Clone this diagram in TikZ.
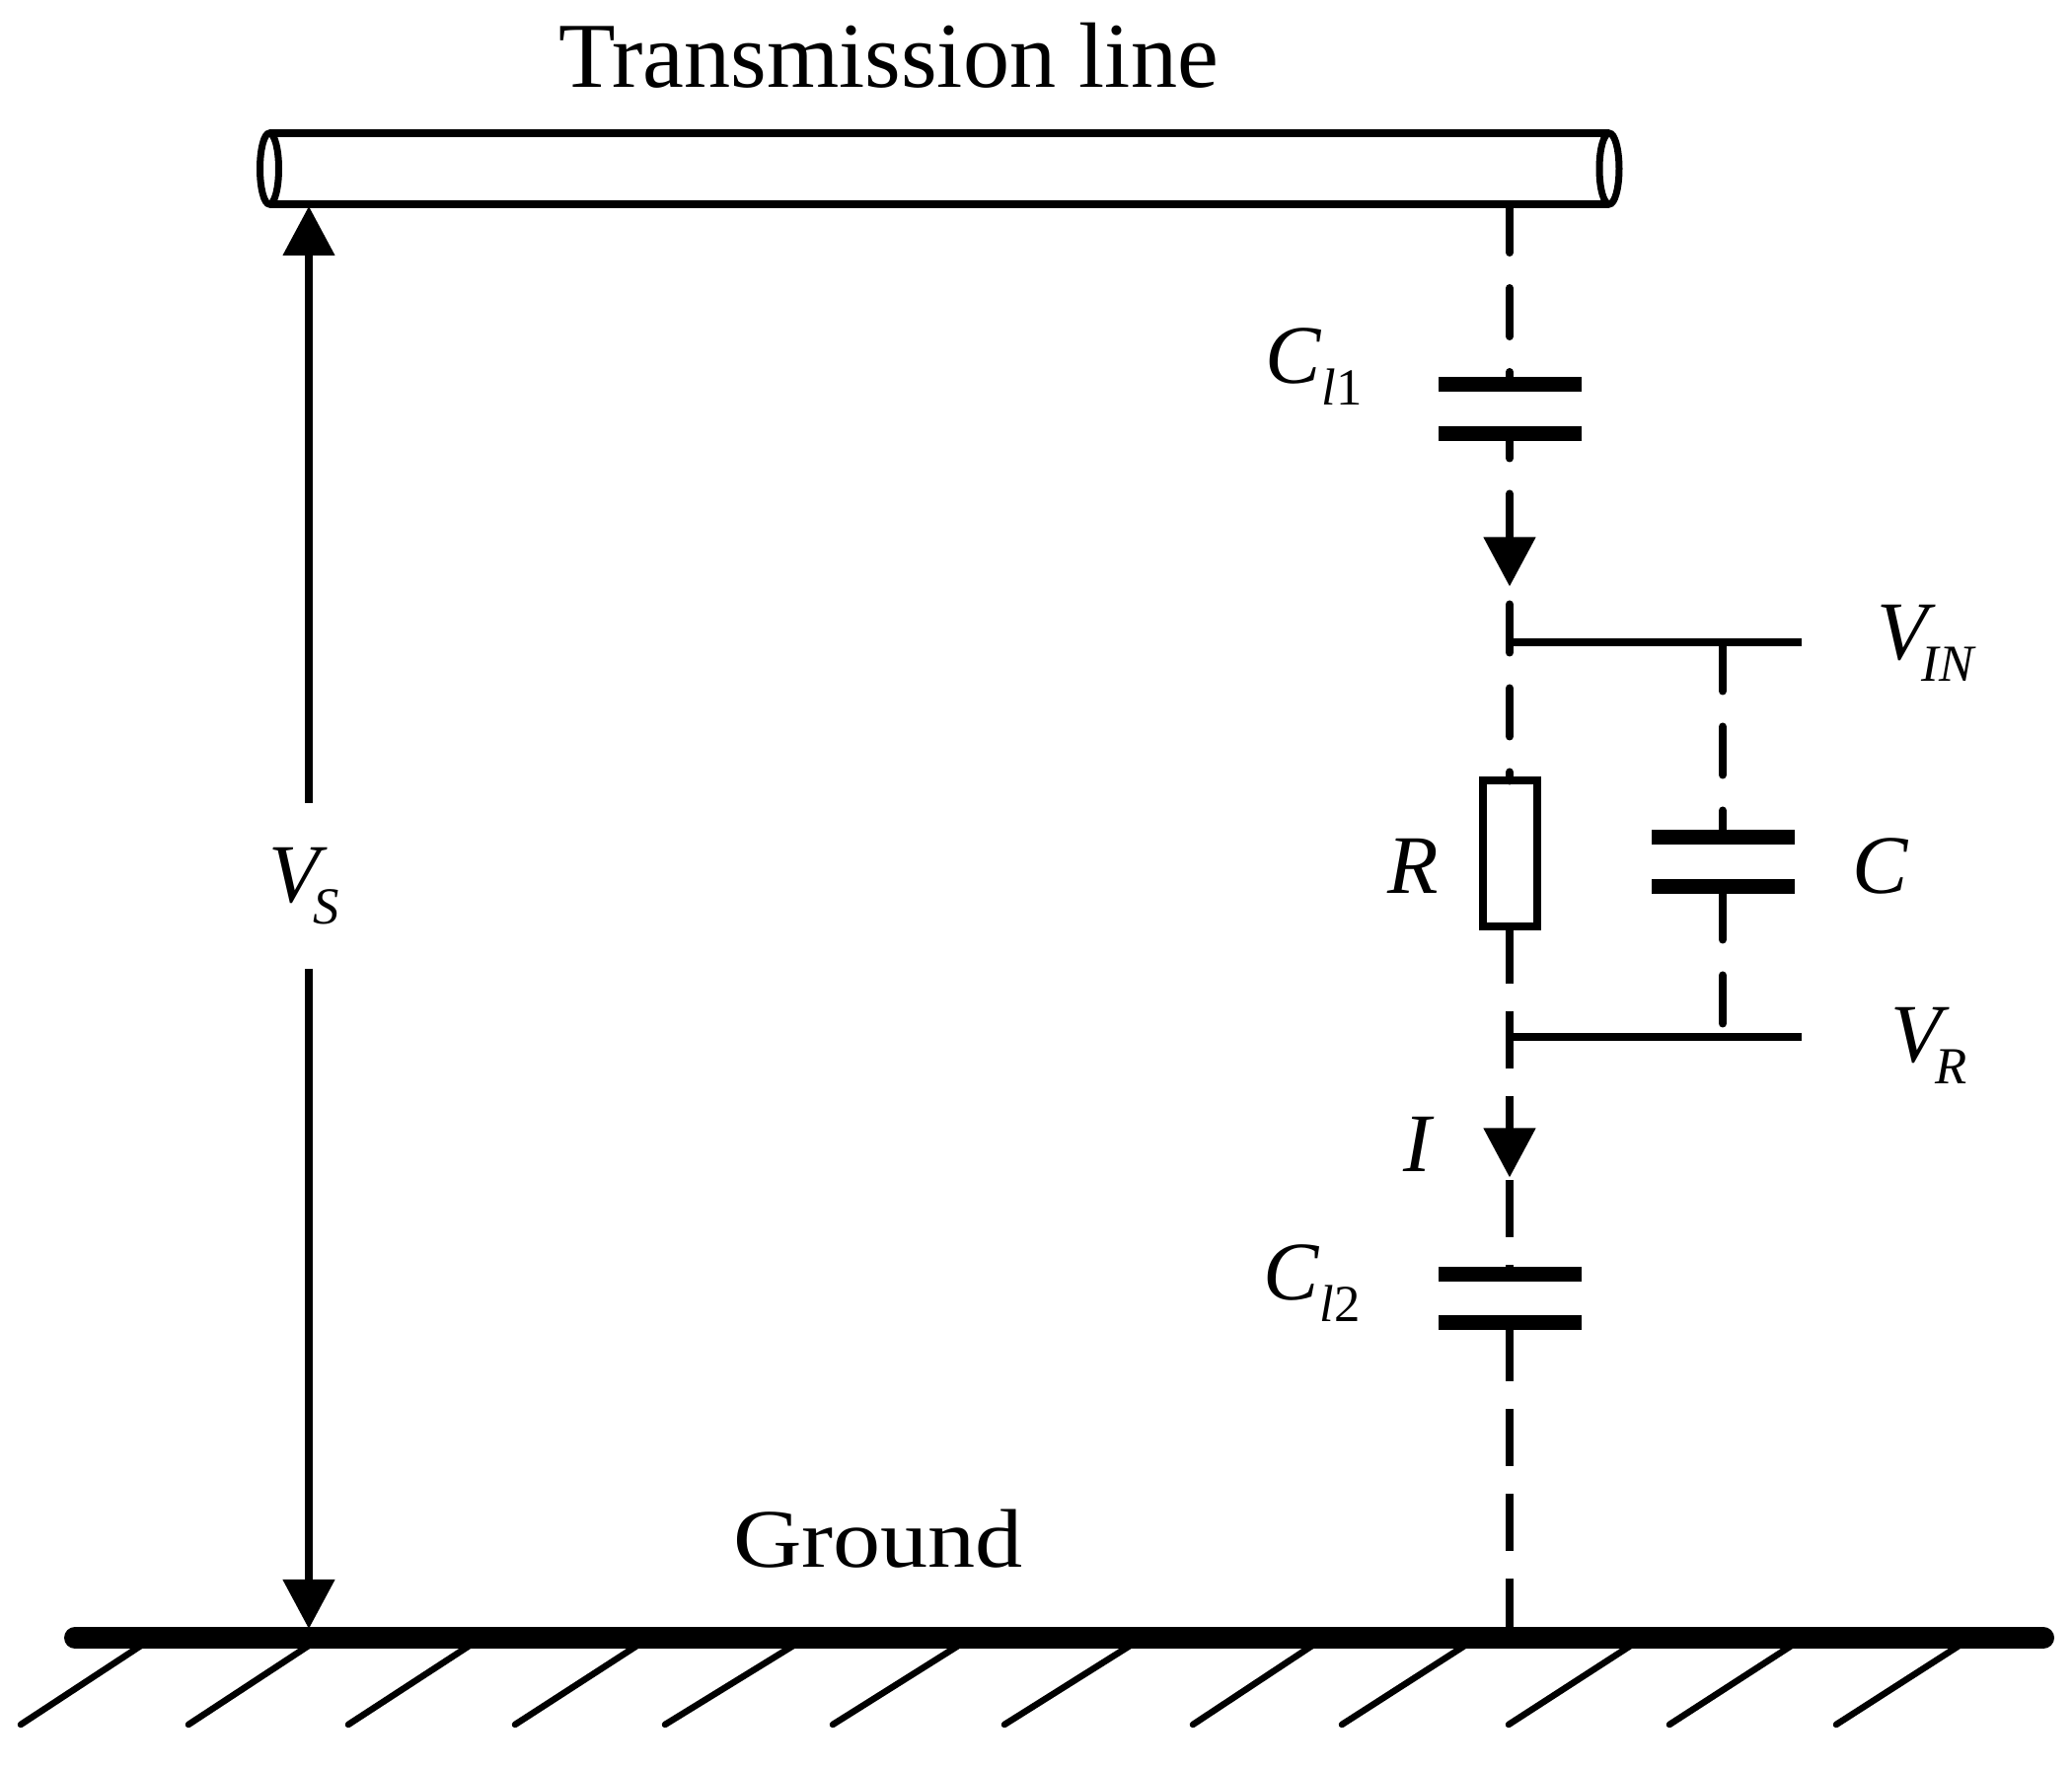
\documentclass[tikz,border=0pt]{standalone}
\usepackage{fontspec}
\setmainfont{Liberation Serif}
\usepackage{tikz}
\usetikzlibrary{positioning}
\usetikzlibrary{arrows.meta}
\newcommand{\sublab}[3]{\textit{#1}\kern#3\raisebox{-0.22cm}{\fontsize{15}{15}\selectfont #2}}
\tikzset{
  wire/.style={line width=0.08cm},
  dashround/.style={wire, line cap=round, dash pattern=on 0.49cm off 0.36cm},
  dashbutt/.style={wire, dash pattern=on 0.58cm off 0.28cm},
  hatch/.style={line width=0.065cm, line cap=round},
  plate/.style={fill=black, minimum width=1.45cm, minimum height=0.15cm, inner sep=0pt, outer sep=0pt},
  resbox/.style={draw, wire, fill=white, minimum width=0.55cm, minimum height=1.48cm, inner sep=0pt, outer sep=0pt},
  mathlab/.style={inner sep=0pt, outer sep=0pt, font=\fontsize{24}{24}\selectfont},
  textlab/.style={inner sep=0pt, outer sep=0pt}
}
\begin{document}
\begin{tikzpicture}[>={Triangle[width=0.51cm,length=0.5cm]}]
        \useasboundingbox (0,0) rectangle (21,17.92);

        % tube %
        \coordinate (tl) at (2.73,16.57);
        \coordinate[below=0.72 of tl] (bl);
        \coordinate[right=13.58 of tl] (tr);
        \coordinate[right=13.58 of bl] (br);
        \coordinate[below=0.36 of tl] (el);
        \coordinate[below=0.36 of tr] (er);
        \coordinate[right=12.57 of bl] (ts);

        % ground %
        \coordinate (gl) at (0.76,1.32);
        \coordinate[right=19.95 of gl] (gr);

        % nodes %
        \node[textlab, font=\fontsize{26.8}{26.8}\selectfont, above right=0.46 and 2.93 of tl, anchor=south west] (title) {Transmission line};
        \node[textlab, font=\fontsize{24}{24}\selectfont\addfontfeature{FakeStretch=1.14}, above right=0.71 and 6.67 of gl, anchor=south west] (ground) {Ground};

        \coordinate[below right=0.02 and 0.40 of bl] (vst);
        \node[mathlab, minimum height=1.68cm, below=6.05 of vst] (vs) {\kern-0.1cm\sublab{V}{\textit{S}}{-4pt}};
        \coordinate[below=6.69 of vs] (vsg);

        \node[plate, below=1.75 of ts] (c1a) {};
        \node[plate, below=0.355 of c1a] (c1b) {};
        \coordinate[below=1.47 of c1b] (a1);
        \coordinate[below=0.18 of a1] (s2);
        \coordinate[below=0.57 of a1] (vin);
        \node[resbox, below=1.79 of s2] (r) {};
        \coordinate[below=1.12 of r] (vrj);
        \coordinate[below=2.54 of r] (a2);
        \coordinate[below=0.03 of a2] (s3);
        \node[plate, below=0.875 of s3] (c2a) {};
        \node[plate, below=0.34 of c2a] (c2b) {};
        \coordinate[below=3.08 of c2b] (gs);

        \coordinate[right=2.96 of vin] (vino);
        \coordinate[right=2.96 of vrj] (vro);
        \coordinate[right=2.16 of vin] (bj);
        \coordinate[right=2.16 of vrj] (bk);
        \node[plate, below=1.90 of bj] (ca) {};
        \node[plate, below=0.35 of ca] (cb) {};

        \node[mathlab, left=0.77 of c1a, yshift=0.18cm] (cl1) {\sublab{C}{\textit{l}1}{0pt}};
        \node[mathlab, left=0.79 of c2a, yshift=-0.09cm] (cl2) {\sublab{C}{\textit{l}2}{0pt}};
        \node[mathlab, right=0.76 of vino] (vinl) {\sublab{V}{\textit{IN}}{-4pt}};
        \node[mathlab, right=0.90 of vro, yshift=-0.08cm] (vrl) {\sublab{V}{\textit{R}}{-4pt}};
        \node[mathlab, left=0.44 of r, yshift=-0.12cm] (rl) {\textit{R}};
        \node[mathlab, right=0.59 of ca, yshift=-0.29cm] (cl) {\textit{C}};
        \node[mathlab, left=0.76 of a2, yshift=0.34cm] (il) {\textit{I}};

        % edges %
        \draw[wire] (tl) -- (tr);
        \draw[wire] (bl) -- (br);
        \draw[line width=0.07cm] (el) ellipse [x radius=0.095, y radius=0.36];
        \draw[line width=0.07cm] (er) ellipse [x radius=0.10, y radius=0.36];
        \draw[wire, ->] (vs.north) -- (vst);
        \draw[wire, ->] (vs.south) -- (vsg);

        \draw[dashround] (ts) -- (c1a.north);
        \draw[dashround, dash phase=0.32cm, ->] (c1b.south) -- (a1);
        \draw[dashround] (s2) -- (r.north);
        \draw[dashbutt, ->] (r.south) -- (a2);
        \draw[dashbutt] (s3) -- (c2a.north);
        \draw[dashbutt, dash phase=0.055cm] (c2b.south) -- (gs);

        \draw[wire] (vin) -- (vino);
        \draw[wire] (vrj) -- (vro);
        \draw[dashround] (bj) -- (ca.north);
        \draw[dashround, dash phase=0.03cm] (cb.south) -- (bk);

        \draw[line width=0.22cm, line cap=round] (gl) -- (gr);

        % hatching %
        \draw[hatch] (1.55,1.32) -- (0.21,0.44);
        \draw[hatch] (3.25,1.32) -- (1.91,0.44);
        \draw[hatch] (4.88,1.32) -- (3.53,0.44);
        \draw[hatch] (6.58,1.32) -- (5.22,0.44);
        \draw[hatch] (8.17,1.32) -- (6.74,0.44);
        \draw[hatch] (9.84,1.32) -- (8.44,0.44);
        \draw[hatch] (11.58,1.32) -- (10.18,0.44);
        \draw[hatch] (13.42,1.32) -- (12.09,0.44);
        \draw[hatch] (14.97,1.32) -- (13.60,0.44);
        \draw[hatch] (16.65,1.32) -- (15.29,0.44);
        \draw[hatch] (18.28,1.32) -- (16.92,0.44);
        \draw[hatch] (19.98,1.32) -- (18.61,0.44);
      \end{tikzpicture}
\end{document}
